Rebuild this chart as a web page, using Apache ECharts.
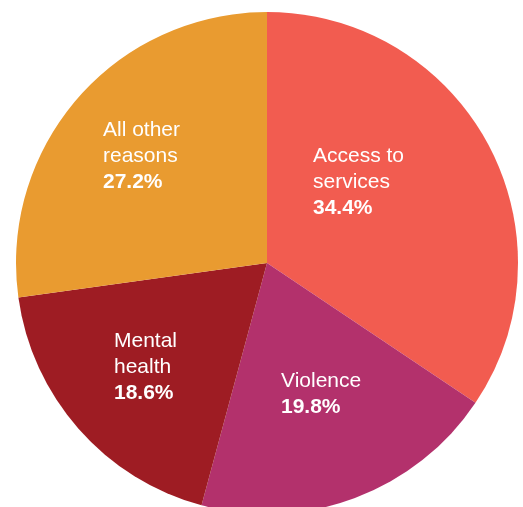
<!DOCTYPE html>
<html>
<head>
<meta charset="utf-8">
<script src="https://cdn.jsdelivr.net/npm/echarts@6/dist/echarts.min.js"></script>
<style>
html,body{margin:0;padding:0;background:#fff;}
#main{width:523px;height:507px;}
</style>
</head>
<body>
<div id="main"></div>
<script>
var reasons=['Access to\nservices','Violence','Mental\nhealth','All other\nreasons'];
var shares=[34.4,19.8,18.6,27.2];
var colors=['#F25C50','#B3316C','#9E1C23','#E99B30'];

// where each label block starts (left, top)
var labelSpots=[[313,143],[281,368],[114,328],[103,117]];

var myChart=echarts.init(document.getElementById('main'));

var pieData=[];
for(var i=0;i<reasons.length;i++){
    pieData.push({name:reasons[i],value:shares[i],itemStyle:{color:colors[i]}});
}

var option={
    animation:false,
    series:[{
        type:'pie',
        center:[267,263],
        radius:251,
        startAngle:90,
        clockwise:true,
        avoidLabelOverlap:false,
        emphasis:{disabled:true},
        itemStyle:{borderWidth:0},
        label:{
            show:true,
            position:'inside',
            align:'left',
            formatter:function(p){
                return '{n|'+p.name+'}\n{p|'+p.value.toFixed(1)+'%}';
            },
            rich:{
                n:{color:'#fff',fontFamily:'Liberation Sans',fontSize:21,fontWeight:'normal',lineHeight:26,align:'left'},
                p:{color:'#fff',fontFamily:'Liberation Sans',fontSize:21,fontWeight:'bold',lineHeight:26,align:'left'}
            }
        },
        labelLine:{show:false},
        labelLayout:function(params){
            var s=labelSpots[params.dataIndex];
            return {x:s[0],y:s[1],align:'left',verticalAlign:'top'};
        },
        data:pieData
    }]
};

myChart.setOption(option);
</script>
</body>
</html>
